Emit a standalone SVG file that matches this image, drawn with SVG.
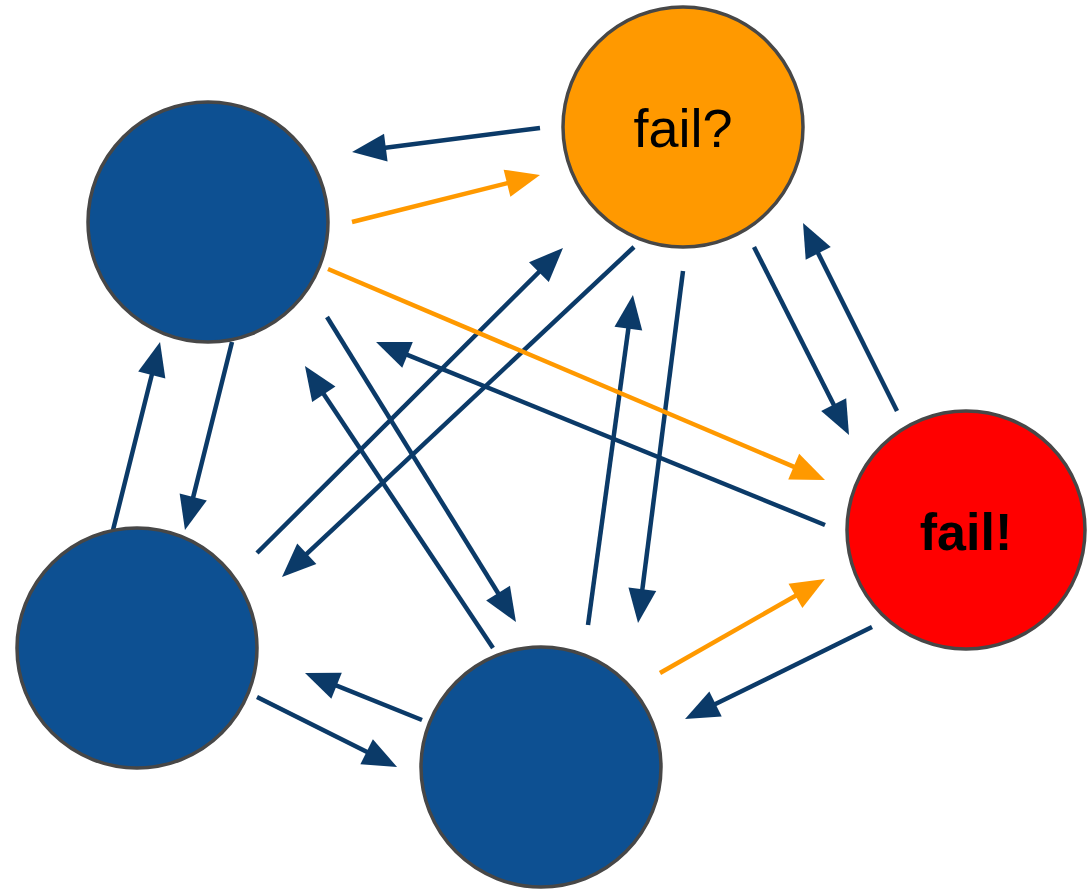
<svg xmlns="http://www.w3.org/2000/svg" width="1087" height="892" viewBox="0 0 1087 892">
<defs>
<style>
.n{stroke:#474747;stroke-width:3.5}
.blue{fill:#0d5092}
.e{fill:none;stroke-width:4.5;stroke-linecap:butt}
.nv{stroke:#0b3a68;marker-end:url(#an)}
.og{stroke:#ff9900;marker-end:url(#ao)}
text{font-family:"Liberation Sans",Arial,sans-serif;font-size:52px;fill:#000;text-anchor:middle}
</style>
<marker id="an" markerUnits="userSpaceOnUse" markerWidth="40" markerHeight="40" viewBox="-2 -16 40 32" refX="24" refY="0" orient="auto"><path d="M0,-14 L34,0 L0,14 z" fill="#0b3a68"/></marker>
<marker id="ao" markerUnits="userSpaceOnUse" markerWidth="40" markerHeight="40" viewBox="-2 -16 40 32" refX="24" refY="0" orient="auto"><path d="M0,-14 L34,0 L0,14 z" fill="#ff9900"/></marker>
</defs>
<rect width="1087" height="892" fill="#fff"/>
<g id="connectors">
<line class="e nv" x1="540" y1="128" x2="362" y2="150.7"/>
<line class="e nv" x1="825" y1="525" x2="385.3" y2="345.8"/>
<line class="e nv" x1="754" y1="247" x2="844.5" y2="426.1"/>
<line class="e nv" x1="897" y1="411" x2="807.5" y2="231.9"/>
<line class="e nv" x1="872" y1="627" x2="694" y2="714.6"/>
<line class="e nv" x1="232" y1="342" x2="187.4" y2="520.3"/>
<line class="e nv" x1="113" y1="530" x2="157.6" y2="351.7"/>
<line class="e nv" x1="257" y1="697" x2="388.1" y2="762.5"/>
<line class="e nv" x1="422" y1="720" x2="314.3" y2="676.7"/>
<line class="e nv" x1="257" y1="553" x2="555.9" y2="255.1"/>
<line class="e nv" x1="634" y1="247" x2="289.3" y2="570.2"/>
<line class="e nv" x1="327" y1="317" x2="510.7" y2="613.5"/>
<line class="e nv" x1="493" y1="648" x2="310.5" y2="374.3"/>
<line class="e nv" x1="588" y1="625" x2="631.6" y2="304.9"/>
<line class="e nv" x1="683" y1="271" x2="639.3" y2="613.1"/>
<line class="e og" x1="352" y1="222" x2="530.3" y2="177.4"/>
<line class="e og" x1="328" y1="269" x2="815.8" y2="476.1"/>
<line class="e og" x1="660" y1="673" x2="816.3" y2="584"/>
</g>
<g id="node-topleft"><circle class="n blue" cx="208" cy="222" r="120"/></g>
<g id="node-fail-question"><circle class="n" cx="683" cy="127" r="120" fill="#ff9900"/><text x="683" y="147" font-size="54" style="font-size:54px">fail?</text></g>
<g id="node-fail-bang"><circle class="n" cx="966" cy="530" r="119" fill="#ff0000"/><text x="966" y="550" font-weight="bold">fail!</text></g>
<g id="node-bottomleft"><circle class="n blue" cx="137" cy="648" r="120"/></g>
<g id="node-bottom"><circle class="n blue" cx="541" cy="767" r="120"/></g>
</svg>
